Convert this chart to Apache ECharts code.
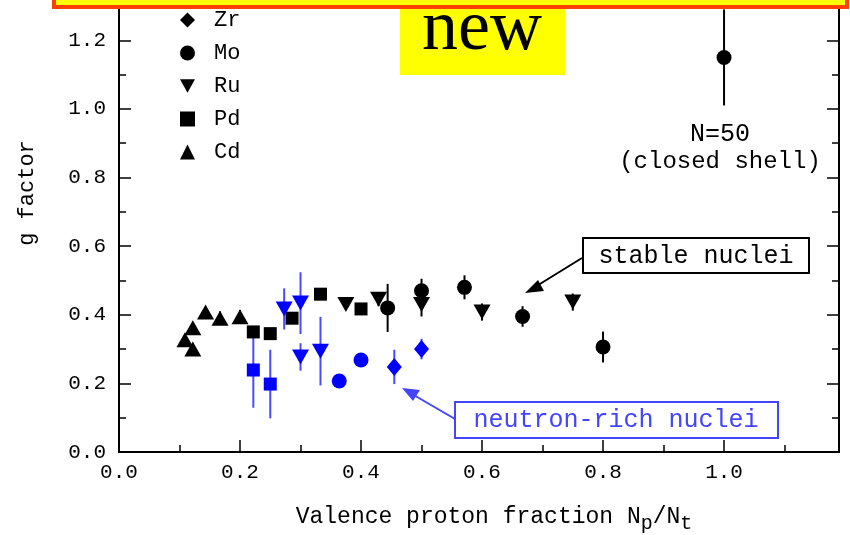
<!DOCTYPE html>
<html><head><meta charset="utf-8">
<script src="https://cdn.jsdelivr.net/npm/echarts@6/dist/echarts.min.js"></script>
<style>html,body{margin:0;padding:0;background:#fff}#c{width:850px;height:535px}</style>
</head><body><div id="c"></div>
<script>
// ---- stable nuclei (black) ----
const moStableX = [0.444, 0.5, 0.571, 0.667, 0.8, 1.0];
const moStableY = [0.42, 0.47, 0.48, 0.395, 0.306, 1.15];
const moStableErr = [0.07, 0.035, 0.035, 0.03, 0.045, 0.14];
const ruStableX = [0.375, 0.429, 0.5, 0.6, 0.75];
const ruStableY = [0.43, 0.445, 0.43, 0.408, 0.437];
const ruStableErr = [0, 0.02, 0.035, 0.025, 0.025];
const pdStableX = [0.222, 0.25, 0.286, 0.333, 0.4];
const pdStableY = [0.35, 0.345, 0.39, 0.46, 0.417];
const pdStableErr = [0, 0, 0, 0, 0.012];
const cdStableX = [0.109, 0.122, 0.122, 0.143, 0.167, 0.2];
const cdStableY = [0.327, 0.362, 0.30, 0.408, 0.39, 0.394];
const cdStableErr = [0, 0, 0.015, 0.015, 0.02, 0.02];
// ---- neutron-rich nuclei (blue) ----
const zrRichX = [0.455, 0.5];
const zrRichY = [0.248, 0.30];
const zrRichErr = [0.05, 0.03];
const moRichX = [0.364, 0.4];
const moRichY = [0.207, 0.268];
const moRichErr = [0, 0];
const ruRichX = [0.273, 0.3, 0.3, 0.333];
const ruRichY = [0.417, 0.434, 0.277, 0.294];
const ruRichErr = [0.06, 0.09, 0.04, 0.1];
const pdRichX = [0.222, 0.25];
const pdRichY = [0.239, 0.198];
const pdRichErr = [0.11, 0.1];
// ---- axes ----
const xTickLabels = ['0.0', '0.2', '0.4', '0.6', '0.8', '1.0'];
const yTickLabels = ['0.0', '0.2', '0.4', '0.6', '0.8', '1.0', '1.2'];
const legendNames = ['Zr', 'Mo', 'Ru', 'Pd', 'Cd'];

const BLACK = '#000000', BLUE = '#0000ff', BLUE_BAR = '#4a4aff';
const MONO = 'Liberation Mono';
const INV_TRI = 'path://M0,0L10,0L5,9Z';

function pts(xs, ys) { return xs.map((x, i) => [x, ys[i]]); }
function bars(xs, ys, es) {
  return xs.map((x, i) => [x, ys[i] - es[i], ys[i] + es[i]]).filter((d, i) => es[i] > 0);
}
function errSeries(xs, ys, es, color) {
  return {
    type: 'custom', silent: true, z: 1,
    data: bars(xs, ys, es),
    encode: { x: 0, y: [1, 2] },
    renderItem: function (params, api) {
      const a = api.coord([api.value(0), api.value(1)]);
      const b = api.coord([api.value(0), api.value(2)]);
      return { type: 'line', shape: { x1: a[0], y1: a[1], x2: b[0], y2: b[1] },
               style: { stroke: color, lineWidth: 2 } };
    }
  };
}
function sc(name, xs, ys, symbol, size, color, rot) {
  return { name: name, type: 'scatter', z: 3, data: pts(xs, ys), symbol: symbol, symbolSize: size,
           symbolRotate: rot || 0, itemStyle: { color: color, opacity: 1 } };
}
function fmtX(v) { const i = xTickLabels.indexOf(v.toFixed(1)); return (i >= 0 && Math.abs(v - parseFloat(xTickLabels[i])) < 1e-6) ? xTickLabels[i] : ''; }
function fmtY(v) { const i = yTickLabels.indexOf(v.toFixed(1)); return (i >= 0 && Math.abs(v - parseFloat(yTickLabels[i])) < 1e-6) ? yTickLabels[i] : ''; }

const lineSt = { color: '#000', width: 2 };
const tickSt = { color: '#000', width: 1.5 };
function xAx(interval, len, labels) {
  return { type: 'value', min: 0, max: 1.19, interval: interval, position: 'bottom',
    axisLine: { show: true, lineStyle: lineSt }, splitLine: { show: false },
    axisTick: { show: true, inside: true, length: len, lineStyle: tickSt },
    axisLabel: labels ? { show: true, formatter: fmtX, fontFamily: MONO, fontSize: 21, color: '#000', margin: 10 } : { show: false } };
}
function yAx(interval, len, labels, pos) {
  return { type: 'value', min: 0, max: 1.3, interval: interval, position: pos,
    axisLine: { show: true, onZero: false, lineStyle: lineSt }, splitLine: { show: false },
    axisTick: { show: true, inside: true, length: len, lineStyle: tickSt },
    axisLabel: labels ? { show: true, formatter: fmtY, fontFamily: MONO, fontSize: 21, color: '#000', margin: 13 } : { show: false } };
}

const chart = echarts.init(document.getElementById('c'), null, { renderer: 'canvas' });
chart.setOption({
  animation: false,
  backgroundColor: '#fff',
  grid: { left: 119, right: 11, top: 6, bottom: 83 },
  xAxis: [xAx(0.2, 12, true), xAx(0.1, 7, false)],
  yAxis: [yAx(0.2, 12, true, 'left'), yAx(0.1, 7, false, 'left'), yAx(0.2, 12, false, 'right'), yAx(0.1, 7, false, 'right')],
  legend: {
    orient: 'vertical', left: 180, top: 9, padding: 0, itemWidth: 15, itemHeight: 15, itemGap: 11,
    selectedMode: false,
    textStyle: { fontFamily: MONO, fontSize: 22, color: '#000', padding: [0, 0, 0, 14] },
    data: [
      { name: legendNames[0], icon: 'diamond', itemStyle: { color: BLACK } },
      { name: legendNames[1], icon: 'circle', itemStyle: { color: BLACK } },
      { name: legendNames[2], icon: INV_TRI, itemStyle: { color: BLACK } },
      { name: legendNames[3], icon: 'rect', itemStyle: { color: BLACK } },
      { name: legendNames[4], icon: 'triangle', itemStyle: { color: BLACK } }
    ]
  },
  series: [
    errSeries(moStableX, moStableY, moStableErr, BLACK),
    errSeries(ruStableX, ruStableY, ruStableErr, BLACK),
    errSeries(pdStableX, pdStableY, pdStableErr, BLACK),
    errSeries(cdStableX, cdStableY, cdStableErr, BLACK),
    errSeries(zrRichX, zrRichY, zrRichErr, BLUE_BAR),
    errSeries(ruRichX, ruRichY, ruRichErr, BLUE_BAR),
    errSeries(pdRichX, pdRichY, pdRichErr, BLUE_BAR),
    sc('Mo', moStableX, moStableY, 'circle', 15, BLACK),
    sc('Ru', ruStableX, ruStableY, INV_TRI, [17, 15], BLACK),
    sc('Pd', pdStableX, pdStableY, 'rect', 13, BLACK),
    sc('Cd', cdStableX, cdStableY, 'triangle', [17, 15], BLACK),
    sc('Zr', zrRichX, zrRichY, 'diamond', [15, 18], BLUE),
    sc('Mo', moRichX, moRichY, 'circle', 15, BLUE),
    sc('Ru', ruRichX, ruRichY, INV_TRI, [17, 15], BLUE),
    sc('Pd', pdRichX, pdRichY, 'rect', 13, BLUE)
  ],
  graphic: [
    // axis titles
    { type: 'text', x: 27, y: 193, rotation: Math.PI / 2, z: 10,
      style: { text: 'g factor', font: '22px "Liberation Mono"', fill: '#000', align: 'center', verticalAlign: 'middle' } },
    { type: 'text', x: 494, y: 517, z: 10,
      style: { text: 'Valence proton fraction N{s|p}/N{s|t}', font: '23px "Liberation Mono"', fill: '#000',
               align: 'center', verticalAlign: 'middle',
               rich: { s: { fontFamily: MONO, fontSize: 20, padding: [13, 0, 0, 0], fill: '#000' } } } },
    // N=50 annotation
    { type: 'text', x: 720, y: 134, z: 10,
      style: { text: 'N=50', font: '25px "Liberation Mono"', fill: '#000', align: 'center', verticalAlign: 'middle' } },
    { type: 'text', x: 720, y: 162, z: 10,
      style: { text: '(closed shell)', font: '24px "Liberation Mono"', fill: '#000', align: 'center', verticalAlign: 'middle' } },
    // stable nuclei box + arrow
    { type: 'rect', z: 10, shape: { x: 583, y: 238, width: 226, height: 35 },
      style: { fill: '#fff', stroke: '#000', lineWidth: 2 } },
    { type: 'text', x: 696, y: 256, z: 11,
      style: { text: 'stable nuclei', font: '25px "Liberation Mono"', fill: '#000', align: 'center', verticalAlign: 'middle' } },
    { type: 'line', z: 10, shape: { x1: 582, y1: 258, x2: 535, y2: 287 }, style: { stroke: '#000', lineWidth: 2 } },
    { type: 'polygon', z: 10, shape: { points: [[525, 293], [538, 280], [544, 291]] }, style: { fill: '#000' } },
    // neutron-rich box + arrow
    { type: 'rect', z: 10, shape: { x: 455, y: 402, width: 323, height: 36 },
      style: { fill: '#fff', stroke: '#4444ff', lineWidth: 2 } },
    { type: 'text', x: 616, y: 420, z: 11,
      style: { text: 'neutron-rich nuclei', font: '25px "Liberation Mono"', fill: '#4444ff', align: 'center', verticalAlign: 'middle' } },
    { type: 'line', z: 10, shape: { x1: 455, y1: 419, x2: 412, y2: 394 }, style: { stroke: '#4444ff', lineWidth: 2 } },
    { type: 'polygon', z: 10, shape: { points: [[402, 388], [420, 390], [413, 401]] }, style: { fill: '#4444ff' } },
    // "new" highlight box
    { type: 'rect', z: 20, shape: { x: 400, y: 0, width: 165, height: 75 }, style: { fill: '#ffff00' } },
    { type: 'text', x: 482, y: 30, z: 21,
      style: { text: 'new', font: '72px "Liberation Serif"', fill: '#000', align: 'center', verticalAlign: 'middle' } },
    // top banner
    { type: 'rect', z: 30, shape: { x: 54, y: -30, width: 793, height: 37 },
      style: { fill: '#ffff00', stroke: '#ff4000', lineWidth: 4 } }
  ]
});
</script>
</body></html>
